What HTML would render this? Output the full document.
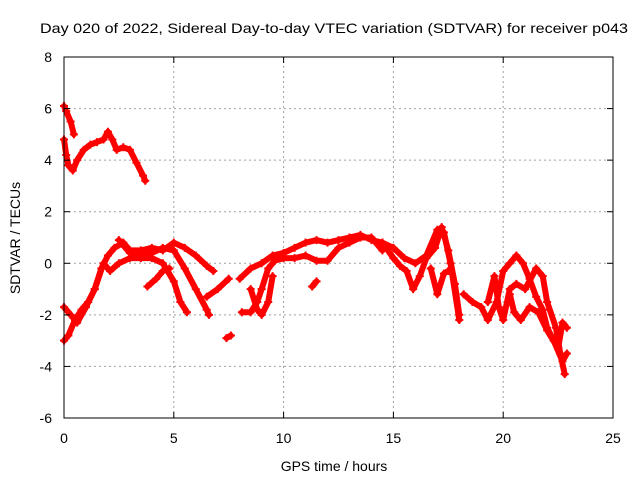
<!DOCTYPE html>
<html><head><meta charset="utf-8"><style>
body{margin:0;background:#fff}
svg{display:block;font-family:"Liberation Sans",Arial,sans-serif}
</style></head><body>
<svg id="chart" width="640" height="480" viewBox="0 0 640 480">
<rect width="640" height="480" fill="#fff"/>
<text x="334" y="33" font-size="14" text-anchor="middle" textLength="588" lengthAdjust="spacingAndGlyphs">Day 020 of 2022, Sidereal Day-to-day VTEC variation (SDTVAR) for receiver p043</text>
<g id="grid"></g>
<g id="marks"></g>
<rect x="64" y="57" width="549" height="361" fill="none" stroke="#000" stroke-width="1"/>
<g id="ticks"></g>
<text x="334" y="471" font-size="14" text-anchor="middle">GPS time / hours</text>
<text transform="translate(20,238) rotate(-90)" font-size="14" text-anchor="middle">SDTVAR / TECUs</text>
</svg>
<script>
const xTicks=[0,5,10,15,20,25];
const yTicks=[-6,-4,-2,0,2,4,6,8];
const trackA1=[[0,6.1],[0.1,5.9],[0.3,5.5],[0.45,5.0]];
const trackA2=[[0,4.8],[0.1,4.2],[0.2,3.8],[0.4,3.6],[0.6,4.0],[0.9,4.4],[1.2,4.6],[1.5,4.7],[1.8,4.8],[2.0,5.1],[2.2,4.8],[2.4,4.4],[2.7,4.5],[3.0,4.4],[3.3,3.9],[3.6,3.4],[3.7,3.2]];
const trackB=[[0,-3.0],[0.2,-2.8],[0.5,-2.2],[0.8,-1.8],[1.1,-1.5],[1.4,-1.0],[1.7,-0.2],[2.0,0.3],[2.3,0.6],[2.7,0.8],[3.0,0.5],[3.5,0.5],[4.0,0.6],[4.5,0.5],[5.0,0.8],[5.5,0.6],[6.0,0.3],[6.5,-0.1],[6.8,-0.3]];
const trackC=[[0,-1.7],[0.3,-2.0],[0.6,-2.3],[1.0,-1.7],[1.4,-1.0],[1.8,0.0],[2.1,-0.3],[2.5,0.0],[3.0,0.2],[3.5,0.2],[4.0,0.2],[4.5,0.0],[5.0,-0.7],[5.3,-1.5],[5.6,-1.9]];
const trackD=[[2.5,0.9],[3.0,0.4],[4.0,0.4],[4.5,0.6],[5.0,0.5],[5.5,-0.2],[6.0,-1.0],[6.5,-1.8],[6.6,-2.0]];
const trackE=[[3.8,-0.9],[4.2,-0.6],[4.5,-0.3],[4.8,-0.2]];
const trackE2=[[6.5,-1.3],[7.0,-1.0],[7.5,-0.6]];
const trackE3=[[7.4,-2.9],[7.6,-2.8]];
const trackF=[[8.0,-0.6],[8.5,-0.2],[9.0,0.0],[9.5,0.3],[10.0,0.4],[10.5,0.6],[11.0,0.8],[11.5,0.9],[12.0,0.8],[12.5,0.9],[13.0,1.0],[13.5,1.1],[14.0,0.9],[14.5,0.8],[15.0,0.6],[15.5,0.2],[16.0,0.0],[16.5,0.3],[17.0,1.3],[17.3,1.2],[17.6,0.0],[18.0,-2.2]];
const trackG=[[8.1,-1.9],[8.5,-1.9],[8.8,-1.5],[9.0,-1.0],[9.3,-0.2],[9.6,0.1],[10.0,0.2],[10.5,0.2],[11.0,0.3],[11.5,0.1],[12.0,0.1],[12.5,0.6],[13.0,0.8],[13.5,1.0],[14.0,1.0],[14.5,0.5]];
const trackH=[[8.5,-1.0],[8.8,-1.8],[9.0,-2.0],[9.3,-1.5],[9.5,-0.5]];
const trackH2=[[11.3,-0.9],[11.5,-0.7]];
const trackI=[[14.5,0.8],[15.0,0.2],[15.3,-0.1],[15.6,-0.3],[15.9,-1.0],[16.2,-0.5],[16.5,0.2],[16.9,0.6],[17.2,1.4],[17.5,0.5],[17.8,-0.8],[18.0,-2.0]];
const trackJ=[[16.7,-0.2],[17.0,-1.2],[17.3,-0.4],[17.5,-0.3]];
const trackK=[[18.2,-1.2],[18.6,-1.5],[19.0,-1.7],[19.3,-2.2],[19.7,-1.5],[20.0,-0.3],[20.3,0.0],[20.6,0.3],[20.9,0.0],[21.2,-0.6],[21.5,-1.3],[21.8,-1.8],[22.0,-2.5],[22.3,-3.0],[22.7,-3.8],[22.9,-3.5]];
const trackL=[[19.3,-1.5],[19.6,-0.5],[19.8,-1.7],[20.0,-2.2],[20.3,-1.0],[20.6,-0.8],[21.0,-1.0],[21.5,-0.2],[21.8,-0.5],[22.0,-1.5],[22.4,-2.5],[22.6,-3.5],[22.8,-4.3]];
const trackM=[[20.3,-1.2],[20.5,-1.9],[20.8,-2.2],[21.2,-1.7],[21.6,-1.9],[22.0,-2.6],[22.5,-3.3],[22.7,-2.3],[22.9,-2.5]];
const tracks=[trackA1,trackA2,trackB,trackC,trackD,trackE,trackE2,trackE3,trackF,trackG,trackH,trackH2,trackI,trackJ,trackK,trackL,trackM];

const NS="http://www.w3.org/2000/svg";
const X0=64,X1=613,Y0=418,Y1=57;
function xs(v){return X0+(v-0)/(25-0)*(X1-X0);}
function ys(v){return Y0-(v+6)/(8+6)*(Y0-Y1);}
function mk(tag,attrs,parent){const e=document.createElementNS(NS,tag);for(const k in attrs)e.setAttribute(k,attrs[k]);parent.appendChild(e);return e;}
const grid=document.getElementById('grid'),ticks=document.getElementById('ticks'),marks=document.getElementById('marks');
xTicks.forEach(t=>{
  const x=xs(t);
  if(t>0&&t<25){const g=mk('line',{x1:x,x2:x,y1:Y0,y2:Y1,stroke:'#a0a0a0','stroke-dasharray':'2,3'},grid);
  
  }
  const a=mk('line',{x1:x,x2:x,y1:Y0,y2:Y0-6,stroke:'#000'},ticks);
  
  
  const b=mk('line',{x1:x,x2:x,y1:Y1,y2:Y1+6,stroke:'#000'},ticks);
  
  
  const l=mk('text',{x:x,y:443,'font-size':14,'text-anchor':'middle'},ticks);l.textContent=t;
  
  
});
yTicks.forEach(t=>{
  const y=ys(t);
  if(t>-6&&t<8){const g=mk('line',{x1:X0,x2:X1,y1:y,y2:y,stroke:'#a0a0a0','stroke-dasharray':'2,3'},grid);
  
  }
  const a=mk('line',{x1:X0,x2:X0+6,y1:y,y2:y,stroke:'#000'},ticks);
  
  
  const b=mk('line',{x1:X1,x2:X1-6,y1:y,y2:y,stroke:'#000'},ticks);
  
  
  const l=mk('text',{x:52,y:y+5,'font-size':14,'text-anchor':'end'},ticks);l.textContent=t;
  
  
});
tracks.forEach(tr=>{
  const p=mk('polyline',{points:tr.map(d=>xs(d[0])+','+ys(d[1])).join(' '),fill:'none',stroke:'#ff0000','stroke-width':6,'stroke-linejoin':'round','stroke-linecap':'round'},marks);
  
  
  tr.forEach(d=>{
    const x=xs(d[0]),y=ys(d[1]);
    const c=mk('path',{d:`M${x-4},${y}H${x+4}M${x},${y-4}V${y+4}`,stroke:'#ff0000','stroke-width':2},marks);
    
    
  });
});
</script>
</body></html>
